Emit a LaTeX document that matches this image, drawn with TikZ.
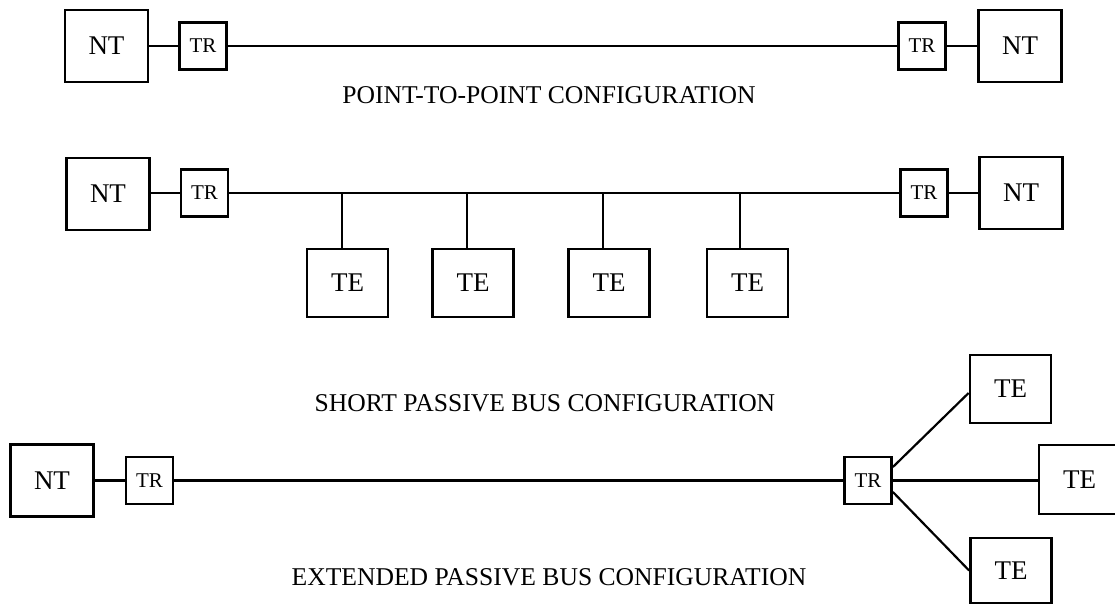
\documentclass[tikz,border=0pt]{standalone}
\usepackage{fontspec}
\setmainfont{Liberation Serif}
\begin{document}
\begin{tikzpicture}[x=0.5pt,y=-0.5pt,
  box/.style={draw,line width=1.4pt,inner sep=0pt,font=\fontsize{13.5}{15}\selectfont},
  ntbox/.style={box,minimum width=41.5pt,minimum height=36pt},
  trbox/.style={box,minimum width=23.5pt,minimum height=23.5pt,font=\fontsize{10.5}{12}\selectfont},
  tebox/.style={box,minimum width=40.5pt,minimum height=34pt},
  wire/.style={line width=1.1pt},
  caption/.style={inner sep=0pt,font=\fontsize{12.8}{14}\selectfont}]
\useasboundingbox (0,0) rectangle (1115,607);

% point-to-point
\node[ntbox] (nt1) at (106.5,46) {NT};
\node[trbox] (tr1) at (203,46) {TR};
\node[trbox] (tr1r) at (922,46) {TR};
\node[ntbox] (nt1r) at (1020,46) {NT};
\draw[wire] (nt1) -- (tr1);
\draw[wire] (tr1) -- (tr1r);
\draw[wire] (tr1r) -- (nt1r);
\node[caption] (cap1) at (549,95) {POINT-TO-POINT CONFIGURATION};

% short passive bus
\node[ntbox] (nt2) at (108,194) {NT};
\node[trbox] (tr2) at (204.5,193) {TR};
\node[trbox] (tr2r) at (924,193) {TR};
\node[ntbox] (nt2r) at (1021,193) {NT};
\draw[wire] (nt2.east |- tr2) -- (tr2);
\draw[wire] (tr2) -- (tr2r);
\draw[wire] (tr2r) -- (nt2r.west |- tr2r);
\node[tebox] (te1) at (347.5,283) {TE};
\node[tebox] (te2) at (473,283) {TE};
\node[tebox] (te3) at (609,283) {TE};
\node[tebox] (te4) at (747.5,283) {TE};
\coordinate (b1) at (342,193);
\coordinate (b2) at (467,193);
\coordinate (b3) at (603,193);
\coordinate (b4) at (740,193);
\draw[wire] (b1) -- (b1 |- te1.north);
\draw[wire] (b2) -- (b2 |- te2.north);
\draw[wire] (b3) -- (b3 |- te3.north);
\draw[wire] (b4) -- (b4 |- te4.north);
\node[caption] (cap2) at (545,403) {SHORT PASSIVE BUS CONFIGURATION};

% extended passive bus
\node[ntbox] (nt3) at (52,480.5) {NT};
\node[trbox] (tr3) at (149.5,480.5) {TR};
\node[trbox] (tr3r) at (868,480.5) {TR};
\node[tebox] (te5) at (1010.5,389) {TE};
\node[tebox,minimum height=34.5pt] (te6) at (1079.5,479.5) {TE};
\node[tebox,minimum height=32.5pt] (te7) at (1011,570.5) {TE};
\draw[wire] (nt3.east |- tr3) -- (tr3);
\draw[wire] (tr3) -- (tr3r);
\draw[wire] ([yshift=6.75pt]tr3r.east) -- ([yshift=-2pt]te5.west);
\draw[wire] (tr3r) -- (te6.west |- tr3r);
\draw[wire] ([yshift=-5.75pt]tr3r.east) -- (te7.west);
\node[caption] (cap3) at (549,577) {EXTENDED PASSIVE BUS CONFIGURATION};
\end{tikzpicture}
\end{document}
